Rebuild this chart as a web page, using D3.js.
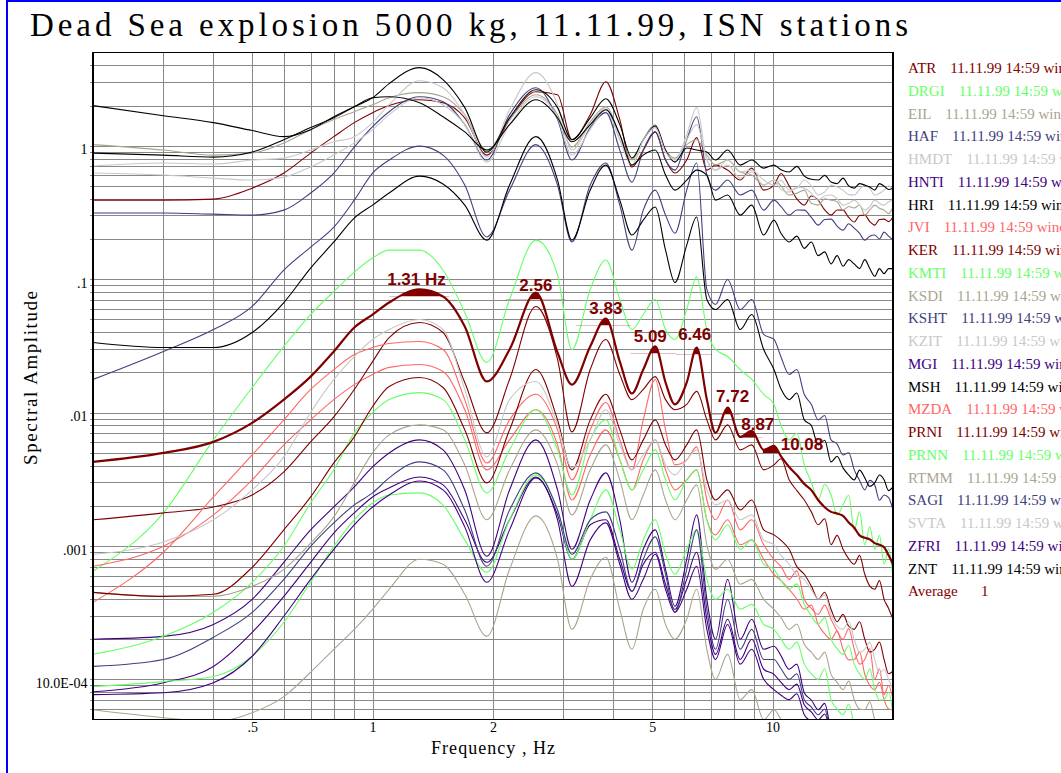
<!DOCTYPE html>
<html>
<head>
<meta charset="utf-8">
<script src="https://cdn.jsdelivr.net/npm/d3@7"></script>
<style>
  html, body { margin: 0; padding: 0; background: #fff; }
  svg { display: block; }
</style>
</head>
<body>
<svg id="chart" width="1061" height="773"></svg>
<script>
// Frequencies (Hz) at which every spectrum is sampled
const freqs = [0.2,0.3,0.4,0.5,0.6,0.7,0.8,0.9,1.0,1.1,
  1.31,1.5,1.7,1.93,2.2,2.56,2.9,3.15,3.5,3.83,
  4.15,4.45,4.75,5.09,5.4,5.7,6.1,6.46,6.85,7.2,
  7.72,8.3,8.87,9.5,
  10.08,10.5,11,11.5,12,12.5,13,13.5,14,14.5,15,15.5,16,16.5,17,17.5,18,18.5,19,19.5,20];

// Spectral amplitude per station
const ATR = [0.391,0.391,0.398,0.481,0.624,0.881,1.17,1.49,1.77,2.00,
  2.21,2.10,1.62,0.851,1.57,2.54,2.41,1.11,1.71,3.02,
  1.57,0.692,0.928,1.27,0.781,0.624,0.781,1.15,0.657,0.716,
  0.657,0.553,0.680,0.465,
  0.507,0.62,0.50,0.40,0.359,0.42,0.391,0.33,0.302,0.33,0.329,0.29,0.268,0.30,0.302,0.27,0.254,0.28,0.282,0.27,0.292];
const DRGI = [0.000646,0.00177,0.00624,0.0154,0.0313,0.0543,0.0808,0.113,0.144,0.165,
  0.165,0.117,0.0562,0.0237,0.0704,0.196,0.107,0.0297,0.0837,0.139,
  0.0704,0.0419,0.0543,0.0704,0.0419,0.0353,0.0592,0.104,0.0419,0.0297,
  0.0263,0.0210,0.0177,0.0137,
  0.0115,0.0080,0.00624,0.0070,0.00405,0.0030,0.00221,0.0029,0.00241,0.0017,0.00203,0.0024,0.00132,0.0018,0.00102,0.0014,0.000944,0.0012,0.000729,0.00095,0.000562];
const EIL = [1.02,0.928,0.851,0.881,1.05,1.32,1.57,1.80,2.03,2.29,
  2.50,2.33,1.71,0.928,1.57,2.41,1.71,0.977,1.51,1.96,
  1.21,0.781,1.11,1.37,0.928,0.808,1.02,1.11,0.851,0.716,
  0.781,0.635,0.603,0.507,
  0.553,0.50,0.427,0.44,0.465,0.37,0.359,0.40,0.391,0.38,0.329,0.35,0.341,0.36,0.302,0.33,0.359,0.34,0.329,0.31,0.347];
const HAF = [0.313,0.313,0.307,0.302,0.329,0.442,0.624,0.977,1.39,1.80,
  2.33,2.14,1.44,0.781,1.71,2.72,1.57,0.781,1.37,1.77,
  0.928,0.534,0.928,1.27,0.781,0.657,1.11,1.65,0.603,0.465,
  0.553,0.427,0.465,0.329,
  0.391,0.35,0.302,0.33,0.329,0.29,0.254,0.28,0.282,0.25,0.233,0.26,0.241,0.22,0.196,0.21,0.214,0.20,0.225,0.21,0.196];
const HMDT = [0.704,0.742,0.729,0.781,0.808,0.928,1.07,1.17,1.49,2.03,
  3.07,2.72,1.71,0.822,1.86,3.53,2.03,0.928,1.44,1.93,
  1.11,0.716,1.11,1.44,0.928,0.781,1.21,1.93,0.781,0.657,
  0.781,0.635,0.657,0.553,
  0.507,0.55,0.465,0.48,0.553,0.50,0.427,0.45,0.507,0.49,0.465,0.43,0.427,0.47,0.507,0.48,0.427,0.44,0.465,0.50,0.465];
const HNTI = [0.000200,0.000210,0.000258,0.000398,0.000754,0.00132,0.00196,0.00277,0.00391,0.00498,
  0.00624,0.00525,0.00263,0.000837,0.00263,0.00624,0.00263,0.000944,0.00221,0.00353,
  0.00157,0.000534,0.000944,0.00132,0.000668,0.000353,0.000794,0.00171,0.000398,0.000200,
  0.000562,0.000200,0.000282,0.000168,
  0.000177,0.00015,0.000119,0.00013,0.0000794,0.000070,0.0000592,0.000066,0.0000419,0.000037,0.0000353,0.000039,0.0000297,0.000026,0.0000250,0.000028,0.0000210,0.000018,0.0000177,0.000020,0.0000149];
const HRI = [0.881,0.851,0.822,0.897,1.11,1.37,1.62,1.96,2.29,2.92,
  3.85,3.13,1.93,0.897,1.62,2.63,1.93,1.11,1.62,2.25,
  1.44,0.808,1.11,1.41,0.928,0.754,0.961,0.928,0.897,0.781,
  0.928,0.716,0.781,0.680,
  0.716,0.66,0.635,0.70,0.592,0.56,0.553,0.60,0.534,0.52,0.572,0.50,0.481,0.52,0.507,0.49,0.465,0.52,0.498,0.47,0.481];
const JVI = [0.000704,0.000994,0.00171,0.00313,0.00572,0.00881,0.0125,0.0162,0.0193,0.0218,
  0.0229,0.0203,0.0105,0.00372,0.00624,0.0105,0.00572,0.00221,0.00481,0.00742,
  0.00442,0.00263,0.00442,0.00624,0.00372,0.00263,0.00313,0.00372,0.00157,0.00121,
  0.00157,0.00102,0.00111,0.000794,
  0.000613,0.00055,0.000473,0.00040,0.000335,0.00036,0.000258,0.00022,0.000200,0.00023,0.000168,0.00014,0.000141,0.00016,0.000109,0.000090,0.0000837,0.000095,0.0000704,0.000060,0.0000592];
const KER = [0.00157,0.00177,0.00196,0.00241,0.00359,0.00603,0.00928,0.0149,0.0241,0.0365,
  0.0473,0.0398,0.0168,0.00704,0.0177,0.0624,0.0250,0.00716,0.0210,0.0353,
  0.0193,0.0125,0.0149,0.0186,0.0125,0.0105,0.0115,0.0144,0.00881,0.00624,
  0.00808,0.00525,0.00572,0.00372,
  0.00405,0.0045,0.00313,0.0026,0.00221,0.0018,0.00144,0.0016,0.00102,0.0012,0.000944,0.00080,0.000729,0.00085,0.000613,0.00050,0.000473,0.00055,0.000398,0.00034,0.000282];
const KMTI = [0.000154,0.000210,0.000318,0.000534,0.000994,0.00210,0.00372,0.00704,0.0100,0.0125,
  0.0141,0.0125,0.00624,0.00250,0.00525,0.0105,0.00525,0.00241,0.00624,0.00881,
  0.00442,0.00263,0.00372,0.00525,0.00313,0.00221,0.00313,0.00372,0.00157,0.00111,
  0.00144,0.000944,0.00111,0.000729,
  0.000668,0.00055,0.000473,0.00052,0.000365,0.00030,0.000258,0.00029,0.000200,0.00017,0.000154,0.00018,0.000130,0.00011,0.000100,0.00012,0.0000837,0.000070,0.0000704,0.000080,0.0000543];
const KSDI = [0.000449,0.000419,0.000419,0.000498,0.000668,0.00105,0.00165,0.00297,0.00498,0.00680,
  0.00808,0.00742,0.00405,0.00157,0.00372,0.00742,0.00405,0.00171,0.00372,0.00572,
  0.00313,0.00157,0.00241,0.00372,0.00221,0.00157,0.00221,0.00287,0.00102,0.000668,
  0.000794,0.000516,0.000562,0.000398,
  0.000335,0.00029,0.000237,0.00026,0.000183,0.00016,0.000141,0.00016,0.000109,0.000095,0.0000837,0.000097,0.0000704,0.000060,0.0000592,0.000068,0.0000498,0.000043,0.0000419,0.000048,0.0000353];
const KSHT = [0.0177,0.0287,0.0419,0.0624,0.117,0.174,0.245,0.391,0.624,0.781,
  0.994,0.851,0.507,0.207,0.465,1.02,0.507,0.190,0.507,0.742,
  0.359,0.165,0.329,0.465,0.302,0.221,0.465,0.742,0.0837,0.0646,
  0.0994,0.0592,0.0704,0.0385,
  0.0353,0.0260,0.0193,0.0210,0.0137,0.0115,0.00881,0.0095,0.00624,0.0058,0.00481,0.0050,0.00372,0.0031,0.00263,0.0031,0.00287,0.0022,0.00241,0.0023,0.00186];
const KZIT = [0.624,0.603,0.572,0.553,0.582,0.692,0.851,1.05,1.32,1.71,
  2.29,2.03,1.44,0.754,1.44,2.33,1.62,0.851,1.32,1.86,
  1.11,0.716,1.11,1.37,0.897,0.781,1.11,1.44,0.781,0.657,
  0.716,0.572,0.635,0.507,
  0.553,0.47,0.449,0.49,0.481,0.44,0.391,0.42,0.427,0.40,0.359,0.37,0.391,0.36,0.329,0.35,0.391,0.37,0.359,0.38,0.391];
const MGI = [0.0000808,0.0000944,0.000125,0.000225,0.000419,0.000754,0.00125,0.00177,0.00233,0.00272,
  0.00329,0.00287,0.00157,0.000754,0.00157,0.00329,0.00171,0.000794,0.00144,0.00157,
  0.000794,0.000457,0.000729,0.000897,0.000516,0.000335,0.000562,0.000897,0.000282,0.000154,
  0.000282,0.000141,0.000200,0.000119,
  0.000109,0.000095,0.0000837,0.000092,0.0000646,0.000057,0.0000498,0.000055,0.0000385,0.000034,0.0000297,0.000033,0.0000250,0.000022,0.0000210,0.000023,0.0000177,0.000016,0.0000149,0.000016,0.0000125];
const MSH = [0.0335,0.0307,0.0307,0.0398,0.0668,0.121,0.190,0.287,0.359,0.442,
  0.592,0.516,0.359,0.196,0.507,1.17,0.553,0.196,0.465,0.716,
  0.391,0.214,0.277,0.347,0.165,0.0944,0.180,0.292,0.0704,0.0592,
  0.0704,0.0419,0.0543,0.0297,
  0.0210,0.0150,0.0125,0.0140,0.00881,0.0080,0.00572,0.0062,0.00427,0.0047,0.00385,0.0034,0.00313,0.0037,0.00324,0.0028,0.00297,0.0034,0.00313,0.0026,0.00277];
const MZDA = [0.000378,0.000897,0.00233,0.00481,0.00881,0.0149,0.0210,0.0272,0.0307,0.0329,
  0.0341,0.0297,0.0125,0.00419,0.00881,0.0137,0.00742,0.00313,0.00742,0.0119,
  0.00624,0.00372,0.00881,0.0177,0.00742,0.00405,0.00442,0.00553,0.00221,0.00157,
  0.00221,0.00132,0.00157,0.00102,
  0.000794,0.00070,0.000562,0.00065,0.000398,0.00034,0.000307,0.00036,0.000282,0.00023,0.000200,0.00024,0.000168,0.00013,0.000141,0.00017,0.000100,0.00012,0.0000768,0.000090,0.0000704];
const PRNI = [0.000449,0.000419,0.000434,0.000692,0.00132,0.00233,0.00419,0.00657,0.0111,0.0157,
  0.0183,0.0154,0.00742,0.00297,0.00742,0.0210,0.00881,0.00372,0.00881,0.0137,
  0.00742,0.00442,0.00624,0.00881,0.00572,0.00442,0.00572,0.00742,0.00313,0.00221,
  0.00263,0.00186,0.00221,0.00132,
  0.00121,0.0011,0.000944,0.00070,0.000613,0.00050,0.000398,0.00045,0.000335,0.00027,0.000307,0.00025,0.000237,0.00027,0.000200,0.00016,0.000168,0.00019,0.000141,0.00011,0.000115];
const PRNN = [0.0000881,0.0000961,0.000105,0.000149,0.000268,0.000534,0.000994,0.00157,0.00210,0.00241,
  0.00250,0.00203,0.00111,0.000635,0.00157,0.00341,0.00186,0.000794,0.00157,0.00263,
  0.00132,0.000668,0.00111,0.00157,0.000866,0.000613,0.000944,0.00132,0.000562,0.000398,
  0.000473,0.000335,0.000365,0.000258,
  0.000237,0.00020,0.000168,0.00019,0.000130,0.00011,0.000100,0.00012,0.0000704,0.000060,0.0000543,0.000065,0.0000457,0.000040,0.0000385,0.000045,0.0000324,0.000028,0.0000272,0.000031,0.0000250];
const RTMM = [0.0000592,0.0000516,0.0000481,0.0000562,0.0000742,0.000113,0.000168,0.000237,0.000335,0.000473,
  0.000794,0.000729,0.000434,0.000210,0.000668,0.00168,0.000794,0.000237,0.000562,0.000822,
  0.000335,0.000168,0.000335,0.000473,0.000258,0.000200,0.000282,0.000473,0.000168,0.000100,
  0.000154,0.0000704,0.0000837,0.0000498,
  0.0000592,0.000050,0.0000419,0.000047,0.0000353,0.000030,0.0000297,0.000033,0.0000250,0.000022,0.0000210,0.000023,0.0000177,0.000016,0.0000149,0.000016,0.0000125,0.000011,0.0000105,0.000011,0.0000089];
const SAGI = [0.000125,0.000141,0.000207,0.000318,0.000562,0.000994,0.00149,0.00203,0.00250,0.00324,
  0.00427,0.00372,0.00186,0.000704,0.00186,0.00353,0.00186,0.000866,0.00157,0.00180,
  0.000944,0.000457,0.000794,0.00117,0.000613,0.000318,0.000668,0.00132,0.000335,0.000168,
  0.000398,0.000168,0.000237,0.000141,
  0.000141,0.00012,0.000100,0.00011,0.0000704,0.000062,0.0000543,0.000060,0.0000385,0.000034,0.0000324,0.000036,0.0000272,0.000024,0.0000229,0.000025,0.0000193,0.000017,0.0000162,0.000018,0.0000137];
const SVTA = [0.000866,0.00107,0.00157,0.00263,0.00465,0.0100,0.0177,0.0263,0.0353,0.0419,
  0.0498,0.0419,0.0149,0.00465,0.0125,0.0171,0.00808,0.00385,0.00624,0.0105,
  0.00572,0.00372,0.00481,0.00624,0.00405,0.00341,0.00442,0.00525,0.00263,0.00203,
  0.00221,0.00157,0.00171,0.00111,
  0.00102,0.00085,0.000729,0.00060,0.000562,0.00047,0.000398,0.00043,0.000307,0.00025,0.000237,0.00027,0.000200,0.00016,0.000168,0.00019,0.000141,0.00011,0.000119,0.00010,0.0000837];
const ZFRI = [0.0000768,0.0000794,0.0000944,0.000149,0.000297,0.000562,0.000944,0.00144,0.00196,0.00241,
  0.00307,0.00263,0.00139,0.000534,0.00132,0.00324,0.00157,0.000498,0.00111,0.00149,
  0.000729,0.000398,0.000562,0.000866,0.000473,0.000318,0.000473,0.000704,0.000237,0.000141,
  0.000258,0.000130,0.000168,0.000100,
  0.0000837,0.000076,0.0000704,0.000078,0.0000543,0.000048,0.0000419,0.000046,0.0000324,0.000029,0.0000250,0.000028,0.0000210,0.000019,0.0000177,0.000019,0.0000149,0.000013,0.0000125,0.000014,0.0000105];
const ZNT = [2.00,1.68,1.49,1.30,1.17,1.32,1.65,1.96,2.29,2.33,
  2.10,1.65,1.27,0.928,1.44,2.21,1.62,1.07,1.44,1.86,
  1.21,0.716,0.851,0.928,0.603,0.465,0.553,0.657,0.603,0.391,
  0.427,0.302,0.359,0.214,
  0.277,0.22,0.19,0.21,0.17,0.19,0.15,0.16,0.13,0.15,0.125,0.14,0.13,0.12,0.14,0.12,0.105,0.12,0.11,0.12,0.12];

// Network average spectrum
const AVERAGE = [0.00427,0.00498,0.00603,0.00837,0.0125,0.0186,0.0287,0.0434,0.0543,0.0668,
  0.0837,0.0742,0.0442,0.0171,0.0297,0.0794,0.0282,0.0162,0.0313,0.0507,
  0.0241,0.0139,0.0210,0.0313,0.0168,0.0115,0.0168,0.0307,0.0125,0.00704,
  0.0109,0.00657,0.00729,0.00525,
  0.00562,0.00470,0.00391,0.00340,0.00292,0.00262,0.00221,0.00195,0.00180,0.00175,0.00168,0.00150,0.00137,0.00120,0.00115,0.00112,0.00105,0.00102,0.000977,0.00085,0.000729];

const stationNames = ["ATR","DRGI","EIL","HAF","HMDT","HNTI","HRI","JVI","KER","KMTI","KSDI","KSHT",
  "KZIT","MGI","MSH","MZDA","PRNI","PRNN","RTMM","SAGI","SVTA","ZFRI","ZNT"];
const stationValues = [ATR,DRGI,EIL,HAF,HMDT,HNTI,HRI,JVI,KER,KMTI,KSDI,KSHT,
  KZIT,MGI,MSH,MZDA,PRNI,PRNN,RTMM,SAGI,SVTA,ZFRI,ZNT];
const recordStamp = "11.11.99 14:59 window";

// Labelled peaks of the average spectrum
const peakFreqs = [1.31,2.56,3.83,5.09,6.46,7.72,8.87,10.08];
const peakLabels = ["1.31 Hz","2.56","3.83","5.09","6.46","7.72","8.87","10.08"];

// Axis ticks
const xTickValues = [0.5,1,2,5,10];
const xTickLabels = [".5","1","2","5","10"];
const yTickValues = [1,0.1,0.01,0.001,0.0001];
const yTickLabels = ["1",".1",".01",".001","10.0E-04"];

// ---- styling ----
const palette = ["#800000","#66ff66","#aaa58f","#404080","#c8c8c8","#400080","#000000","#ff6666"];
const avgColor = "#800000";
const serif = "'Liberation Serif','Times New Roman',serif";
const sans = "'Liberation Sans',Arial,sans-serif";
const labelNudge = [[-3,-4],[0,-2],[0,-4],[-5,-4],[-2,-8],[5,-6],[6,-1],[28,4]];

const W = 1061, H = 773;
const plot = {left: 93, right: 893, top: 52.5, bottom: 719.5};

const svg = d3.select("#chart");
svg.append("rect").attr("width", W).attr("height", H).attr("fill", "#fff");

// window frame
svg.append("rect").attr("x", 7).attr("y", 1).attr("width", W + 10).attr("height", H + 10)
  .attr("fill", "none").attr("stroke", "#0000ff").attr("stroke-width", 2);

// title
svg.append("text").attr("x", 30).attr("y", 36)
  .attr("font-family", serif).attr("font-size", 33)
  .attr("textLength", 878).attr("lengthAdjust", "spacing")
  .text("Dead Sea explosion 5000 kg, 11.11.99, ISN stations");

const x = d3.scaleLog().domain([0.2, 20]).range([plot.left, plot.right]);
const y = d3.scaleLog().domain([5e-5, 5]).range([plot.bottom, plot.top]);

// grid
const gridColor = "#888888";
const gx = svg.append("g").attr("shape-rendering", "crispEdges");
const xGrid = [];
[0.1, 1, 10].forEach(d => { for (let m = 1; m <= 9; m++) { const v = m * d; if (v > 0.2 + 1e-9 && v < 20 - 1e-9) xGrid.push(v); } });
gx.selectAll("line.vx").data(xGrid).join("line")
  .attr("x1", d => Math.round(x(d)) + 0.5).attr("x2", d => Math.round(x(d)) + 0.5)
  .attr("y1", plot.top).attr("y2", plot.bottom)
  .attr("stroke", gridColor).attr("stroke-width", 1);
const yGrid = [];
[1e-5, 1e-4, 1e-3, 1e-2, 1e-1, 1].forEach(d => { for (let m = 1; m <= 9; m++) { const v = m * d; if (v > 5e-5 * 1.0001 && v < 5 * 0.9999) yGrid.push(v); } });
gx.selectAll("line.hy").data(yGrid).join("line")
  .attr("x1", plot.left - 3).attr("x2", plot.right)
  .attr("y1", d => Math.round(y(d)) + 0.5).attr("y2", d => Math.round(y(d)) + 0.5)
  .attr("stroke", gridColor).attr("stroke-width", 1);

// axes (labels only)
const xAxis = d3.axisBottom(x).tickValues(xTickValues)
  .tickFormat((d, i) => xTickLabels[i]).tickSize(0).tickPadding(3);
const gxa = svg.append("g").attr("transform", `translate(0,${plot.bottom})`).call(xAxis);
gxa.select(".domain").remove();
gxa.selectAll("text").attr("font-family", serif).attr("font-size", 14).attr("fill", "#000");

const yAxis = d3.axisLeft(y).tickValues(yTickValues)
  .tickFormat((d, i) => yTickLabels[i]).tickSize(0).tickPadding(5.5);
const gya = svg.append("g").attr("transform", `translate(${plot.left},0)`).call(yAxis);
gya.select(".domain").remove();
gya.selectAll("text").attr("font-family", serif).attr("font-size", 14).attr("fill", "#000").attr("dy", "0.58em");

svg.append("text").attr("x", (plot.left + plot.right) / 2).attr("y", 754)
  .attr("text-anchor", "middle").attr("font-family", serif).attr("font-size", 18)
  .attr("textLength", 124).attr("lengthAdjust", "spacing")
  .text("Frequency , Hz");
svg.append("text").attr("transform", "translate(37,378) rotate(-90)")
  .attr("text-anchor", "middle").attr("font-family", serif).attr("font-size", 19)
  .attr("textLength", 174).attr("lengthAdjust", "spacing")
  .text("Spectral Amplitude");

// clip for curves
svg.append("defs").append("clipPath").attr("id", "plotClip")
  .append("rect").attr("x", plot.left).attr("y", plot.top)
  .attr("width", plot.right - plot.left).attr("height", plot.bottom - plot.top);

const line = d3.line()
  .x((d, i) => x(freqs[i]))
  .y(d => y(d))
  .curve(d3.curveMonotoneX);

const curves = svg.append("g").attr("clip-path", "url(#plotClip)");
curves.selectAll("path.station").data(stationValues).join("path")
  .attr("class", "station")
  .attr("d", d => line(d))
  .attr("fill", "none")
  .attr("stroke", (d, i) => palette[i % palette.length])
  .attr("stroke-width", 1.1)
  .attr("stroke-linejoin", "round");

curves.append("path").attr("d", line(AVERAGE))
  .attr("fill", "none").attr("stroke", avgColor).attr("stroke-width", 2.2)
  .attr("stroke-linejoin", "round");

// filled caps on the labelled peaks
const capDepth = 7;
const defs = svg.select("defs");
const peakPx = peakFreqs.map(f => x(f));
peakFreqs.forEach((f, k) => {
  const v = AVERAGE[freqs.indexOf(f)];
  const px = x(f), py = y(v);
  const left = k > 0 ? (px - peakPx[k - 1]) / 2 : 30;
  const right = k < peakFreqs.length - 1 ? (peakPx[k + 1] - px) / 2 : 10;
  const id = "cap" + k;
  defs.append("clipPath").attr("id", id).append("rect")
    .attr("x", px - Math.min(left, 30)).attr("y", plot.top)
    .attr("width", Math.min(left, 30) + Math.min(right, 30))
    .attr("height", py + capDepth - plot.top);
  const area = d3.area()
    .x((d, i) => x(freqs[i]))
    .y0(py + capDepth)
    .y1(d => y(d))
    .curve(d3.curveMonotoneX);
  svg.append("path").attr("d", area(AVERAGE)).attr("clip-path", `url(#${id})`)
    .attr("fill", avgColor);
  svg.append("text")
    .attr("x", px + labelNudge[k][0]).attr("y", py + labelNudge[k][1])
    .attr("text-anchor", "middle").attr("font-family", sans)
    .attr("font-size", 17).attr("font-weight", "bold").attr("fill", avgColor)
    .text(peakLabels[k]);
});

// plot border
svg.append("rect").attr("x", plot.left).attr("y", plot.top)
  .attr("width", plot.right - plot.left).attr("height", plot.bottom - plot.top)
  .attr("fill", "none").attr("stroke", "#000").attr("stroke-width", 1.2)
  .attr("shape-rendering", "crispEdges");

// legend
const legend = svg.append("g").attr("font-family", serif).attr("font-size", 15);
const rowH = 22.75, legendX = 908, legendY = 73;
stationNames.forEach((name, i) => {
  const t = legend.append("text").attr("x", legendX).attr("y", legendY + i * rowH)
    .attr("fill", palette[i % palette.length]);
  t.append("tspan").text(name);
  t.append("tspan").attr("dx", 14).text(recordStamp);
});
const avgRow = legend.append("text").attr("x", legendX).attr("y", legendY + stationNames.length * rowH)
  .attr("fill", avgColor);
avgRow.append("tspan").text("Average");
avgRow.append("tspan").attr("x", legendX + 73).text("1");
</script>
</body>
</html>
